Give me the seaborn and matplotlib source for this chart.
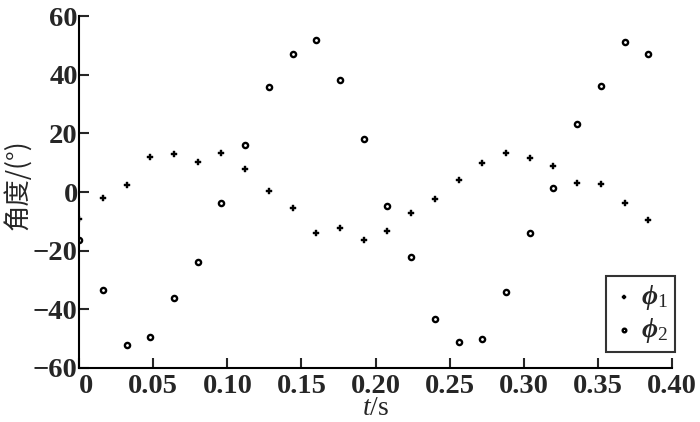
import numpy as np
import pandas as pd
import matplotlib
matplotlib.use('Agg')
import matplotlib.pyplot as plt
import seaborn as sns

# datos
t = [0.000, 0.016, 0.032, 0.048, 0.064, 0.080, 0.096, 0.112, 0.128, 0.144,
     0.160, 0.176, 0.192, 0.208, 0.224, 0.240, 0.256, 0.272, 0.288, 0.304,
     0.320, 0.336, 0.352, 0.368, 0.384]
phi1 = [-9.2, -2.2, 2.5, 11.8, 13.0, 10.2, 13.3, 7.9, 0.4, -5.4,
        -14.0, -12.3, -16.2, -13.3, -7.1, -2.4, 4.1, 10.0, 13.3, 11.6,
        9.0, 3.1, 2.6, -3.7, -9.5]
phi2 = [-16.3, -33.5, -52.2, -49.5, -36.2, -23.9, -3.7, 16.1, 35.9, 46.9,
        51.7, 38.3, 18.2, -4.7, -22.3, -43.3, -51.2, -50.2, -34.2, -14.0,
        1.4, 23.3, 36.3, 51.0, 46.9]
y_ticks = [-60, -40, -20, 0, 20, 40, 60]
x_ticks = [0, 0.05, 0.10, 0.15, 0.20, 0.25, 0.30, 0.35, 0.40]
x_labels = ['0', '0.05', '0.10', '0.15', '0.20', '0.25', '0.30', '0.35', '0.40']

df = pd.DataFrame({'t': t, 'phi1': phi1, 'phi2': phi2})

sns.set_style('white')
plt.rcParams['font.family'] = ['Liberation Serif', 'Noto Sans CJK SC', 'DejaVu Sans']
plt.rcParams['mathtext.fontset'] = 'custom'
plt.rcParams['mathtext.rm'] = 'Liberation Serif'
plt.rcParams['mathtext.it'] = 'Liberation Serif:italic'
plt.rcParams['mathtext.bf'] = 'Liberation Serif:bold'

fig, ax = plt.subplots(figsize=(7, 4.22), dpi=100)
fig.subplots_adjust(left=0.113, right=0.96, top=0.962, bottom=0.128)

sns.scatterplot(data=df, x='t', y='phi1', ax=ax, marker='P', s=16,
                color='black', edgecolor='black', linewidth=0.3,
                label='ϕ$_{\\mathrm{1}}$')
sns.scatterplot(data=df, x='t', y='phi2', ax=ax, marker='o', s=14,
                facecolor='white', edgecolor='black', linewidth=1.7,
                label='ϕ$_{\\mathrm{2}}$')

ax.set_xlim(0, 0.40)
ax.set_ylim(-60, 60)
ax.set_xticks(x_ticks)
ax.set_xticklabels(x_labels)
ax.set_yticks(y_ticks)
ax.set_yticklabels([str(v).replace('-', '\u2212') for v in y_ticks])
ax.tick_params(direction='in', length=7, width=1.5, labelsize=20.5,
               bottom=True, left=True)
ax.tick_params(axis='y', pad=1)
ax.tick_params(axis='x', pad=4)
for lab in ax.get_xticklabels() + ax.get_yticklabels():
    lab.set_fontweight('bold')
# el "0" del eje x va pegado a la derecha del eje, como en el original
ax.get_xticklabels()[0].set_horizontalalignment('left')

for s in ['top', 'right']:
    ax.spines[s].set_visible(False)
for s in ['left', 'bottom']:
    ax.spines[s].set_linewidth(1.5)
    ax.spines[s].set_color('black')

ax.set_xlabel(r'$t$/s', fontsize=20)
ax.set_ylabel('角度/(°)', fontsize=19,
              family=['Noto Sans CJK SC', 'DejaVu Sans'])
ax.xaxis.set_label_coords(0.5, -0.08)
ax.yaxis.set_label_coords(-0.08, 0.52)

leg = ax.legend(loc='lower right', bbox_to_anchor=(1.005, 0.045), frameon=True,
                fancybox=False, edgecolor='black', borderaxespad=0,
                prop={'family': 'Liberation Serif', 'weight': 'bold',
                      'style': 'italic', 'size': 20},
                handletextpad=0.2, handlelength=0.8, borderpad=0.25,
                labelspacing=0.15, markerscale=0.7)
leg.get_frame().set_linewidth(1.5)

plt.savefig('out.png', dpi=100)
plt.close()
